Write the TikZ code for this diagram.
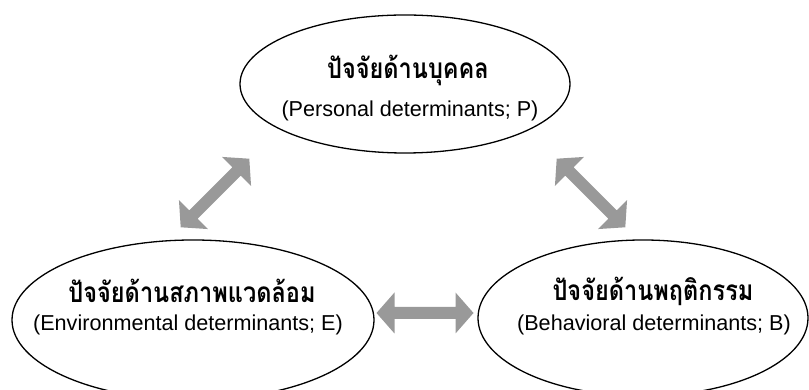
\documentclass[tikz,border=0pt]{standalone}
\usepackage{fontspec}
\usepackage{graphicx}
\setmainfont{Liberation Sans}
\newfontfamily\thaifont[Script=Thai]{Loma}
\usetikzlibrary{shapes.geometric}
\definecolor{arrowgray}{RGB}{153,153,153}
\newcommand{\thaiword}[1]{\scalebox{0.84}[1]{\thaifont\bfseries\fontsize{28}{32}\selectfont #1}}
\tikzset{
  ell/.style={draw=black, line width=1.3pt, ellipse, inner sep=0pt},
  thtext/.style={inner sep=0pt},
  entext/.style={font=\fontsize{21.6}{25}\selectfont, inner sep=0pt},
  blockarrow/.style={fill=arrowgray, draw=none}
}
% double block arrow centred at origin, along x
\newcommand{\dblblock}{%
  \fill[blockarrow] (-48.5,0) -- (-30.5,20.5) -- (-30.5,6) -- (30.5,6) -- (30.5,20.5)
    -- (48.5,0) -- (30.5,-20.5) -- (30.5,-6) -- (-30.5,-6) -- (-30.5,-20.5) -- cycle;}
\begin{document}
\begin{tikzpicture}[x=1pt,y=1pt]
\useasboundingbox (0,0) rectangle (809,390);
\clip (0,0) rectangle (809,390);
% ellipses
\node[ell, minimum width=330, minimum height=138] (P) at (405,306) {};
\node[ell, minimum width=362, minimum height=160] (E) at (193,70) {};
\node[ell, minimum width=330, minimum height=156] (B) at (643,72) {};
% texts
\node[thtext] (Pt) at (408,320) {\thaiword{ปัจจัยด้านบุคคล}};
\node[entext] (Pe) at (410,279) {(Personal determinants; P)};
\node[thtext] (Et) at (192,99) {\thaiword{ปัจจัยด้านสภาพแวดล้อม}};
\node[entext] (Ee) at (188,65) {(Environmental determinants; E)};
\node[thtext] (Bt) at (653,99) {\thaiword{ปัจจัยด้านพฤติกรรม}};
\node[entext] (Be) at (654,65) {(Behavioral determinants; B)};
% block arrows
\coordinate (PE) at (215,197);
\coordinate (PB) at (591,197);
\coordinate (EB) at (425,77);
\begin{scope}[shift={(PE)}, rotate=45]\dblblock\end{scope}
\begin{scope}[shift={(PB)}, rotate=-45]\dblblock\end{scope}
\begin{scope}[shift={(EB)}]\dblblock\end{scope}
\end{tikzpicture}
\end{document}
